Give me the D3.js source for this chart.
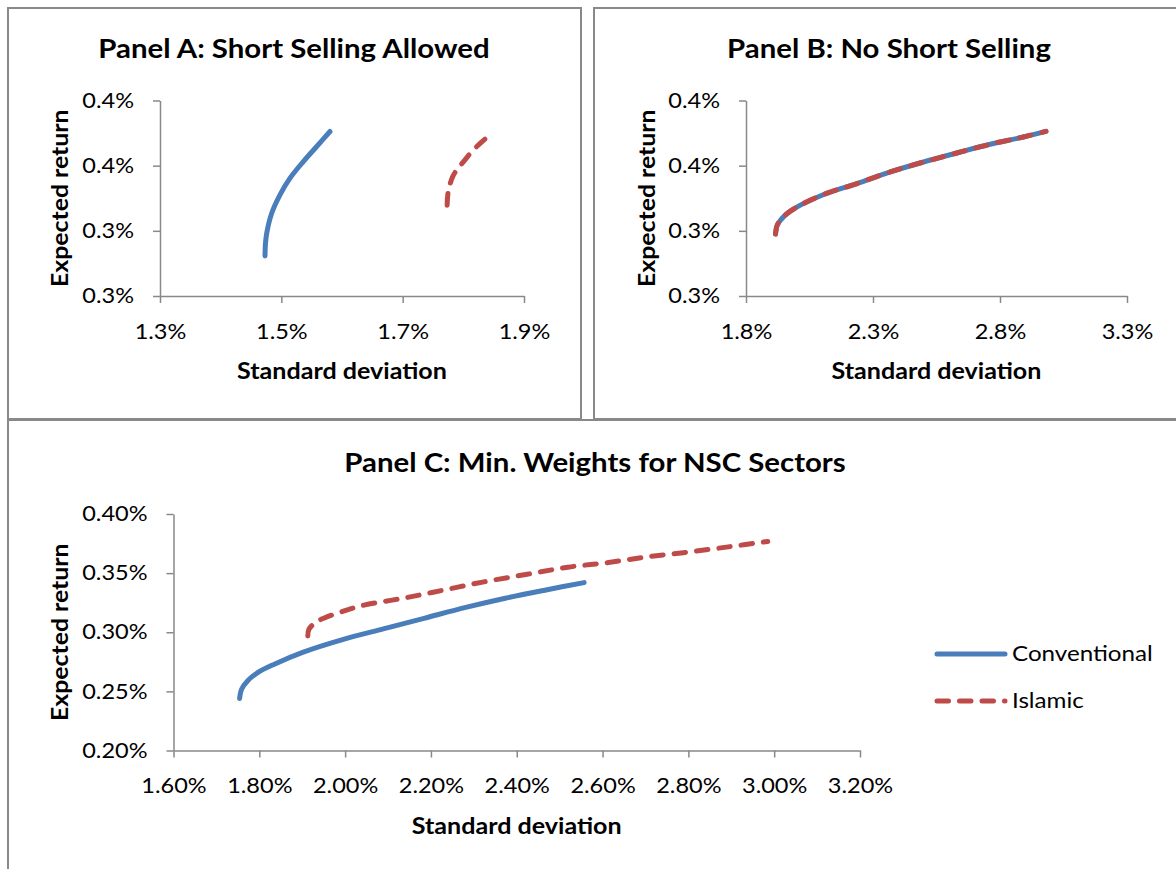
<!DOCTYPE html>
<html>
<head>
<meta charset="utf-8">
<script src="https://cdn.jsdelivr.net/npm/d3@7"></script>
<style>
  html, body { margin: 0; padding: 0; background: #fff; }
  svg { display: block; }
  text { font-family: Lato, "Open Sans", sans-serif; fill: #000; }
</style>
</head>
<body>
<svg id="chart" width="1176" height="869"></svg>
<script>
// Efficient frontiers: [standard deviation %, expected return %]
const panelAConventional = [[1.4731,0.2807],[1.4738,0.2900],[1.4759,0.2982],[1.4841,0.3135],[1.4978,0.3276],[1.5143,0.3404],[1.5362,0.3531],[1.5583,0.3647],[1.5802,0.3762]];
const panelAIslamic = [[1.7733,0.3197],[1.7750,0.3299],[1.7822,0.3413],[1.7895,0.3470],[1.8020,0.3541],[1.8135,0.3605],[1.8272,0.3669],[1.8409,0.3725]];
const panelBConventional = [[1.916,0.2975],[1.923,0.3044],[1.936,0.3082],[1.962,0.3133],[2.014,0.3197],[2.106,0.3279],[2.237,0.3363],[2.368,0.3452],[2.499,0.3528],[2.630,0.3597],[2.761,0.3664],[2.892,0.3720],[2.981,0.3763]];
const panelBIslamic = [[1.916,0.2975],[1.923,0.3044],[1.936,0.3082],[1.962,0.3133],[2.014,0.3197],[2.106,0.3279],[2.237,0.3363],[2.368,0.3452],[2.499,0.3528],[2.630,0.3597],[2.761,0.3664],[2.892,0.3720],[2.981,0.3763]];
const panelCConventional = [[1.754,0.244],[1.759,0.252],[1.773,0.259],[1.797,0.266],[1.835,0.273],[1.901,0.283],[1.996,0.294],[2.091,0.303],[2.186,0.312],[2.281,0.321],[2.376,0.329],[2.471,0.336],[2.557,0.342]];
const panelCIslamic = [[1.913,0.2968],[1.9155,0.3024],[1.930,0.308],[1.949,0.3117],[1.996,0.3178],[2.044,0.3229],[2.139,0.329],[2.234,0.336],[2.329,0.343],[2.424,0.349],[2.519,0.355],[2.614,0.359],[2.709,0.364],[2.804,0.368],[2.899,0.3725],[2.985,0.3768]];

// Axis ticks (percent units) and their printed labels
const xTicksA = [1.3, 1.5, 1.7, 1.9];
const xLabelsA = ["1.3%", "1.5%", "1.7%", "1.9%"];
const xTicksB = [1.8, 2.3, 2.8, 3.3];
const xLabelsB = ["1.8%", "2.3%", "2.8%", "3.3%"];
const yTicksAB = [0.25, 0.30, 0.35, 0.40];
const yLabelsAB = ["0.3%", "0.3%", "0.4%", "0.4%"];
const xTicksC = [1.6, 1.8, 2.0, 2.2, 2.4, 2.6, 2.8, 3.0, 3.2];
const xLabelsC = ["1.60%", "1.80%", "2.00%", "2.20%", "2.40%", "2.60%", "2.80%", "3.00%", "3.20%"];
const yTicksC = [0.20, 0.25, 0.30, 0.35, 0.40];
const yLabelsC = ["0.20%", "0.25%", "0.30%", "0.35%", "0.40%"];

const seriesNames = ["Conventional", "Islamic"];
const titles = ["Panel A: Short Selling Allowed", "Panel B: No Short Selling", "Panel C: Min. Weights for NSC Sectors"];

const BLUE = "#4a7ebb", RED = "#be4b48", GRID = "#898989";
const LINE_W = 5, DASH = "11.5,11";
const svg = d3.select("#chart");

// widen glyphs a little to reach the chart's wide lettering
function stretch(sel, k) {
  sel.each(function () {
    const w = this.getComputedTextLength();
    this.setAttribute("textLength", w * k);
    this.setAttribute("lengthAdjust", "spacingAndGlyphs");
  });
}

// outer frames
const frames = [[8, 8, 581, 419], [594, 8, 1190, 419], [8, 420, 1190, 890]];
svg.selectAll("rect.frame").data(frames).join("rect")
  .attr("class", "frame")
  .attr("x", d => d[0]).attr("y", d => d[1])
  .attr("width", d => d[2] - d[0]).attr("height", d => d[3] - d[1])
  .attr("fill", "none").attr("stroke", GRID).attr("stroke-width", 2);

const line = (x, y) => d3.line().x(d => x(d[0])).y(d => y(d[1])).curve(d3.curveCatmullRom.alpha(0.5));

function panel(cfg) {
  const x = d3.scaleLinear().domain(cfg.xDomain).range(cfg.xRange);
  const y = d3.scaleLinear().domain(cfg.yDomain).range(cfg.yRange);
  const g = svg.append("g");

  const xa = g.append("g").attr("transform", `translate(0,${cfg.yRange[0]})`)
    .call(d3.axisBottom(x).tickValues(cfg.xTicks).tickFormat((d, i) => cfg.xLabels[i])
      .tickSizeInner(7).tickSizeOuter(0).tickPadding(21));
  const ya = g.append("g").attr("transform", `translate(${cfg.xRange[0]},0)`)
    .call(d3.axisLeft(y).tickValues(cfg.yTicks).tickFormat((d, i) => cfg.yLabels[i])
      .tickSizeInner(7).tickSizeOuter(0).tickPadding(19));
  [xa, ya].forEach(a => {
    a.selectAll("path, line").attr("stroke", GRID).attr("stroke-width", 1.5);
    a.selectAll("text").style("font-family", "Lato, sans-serif").style("font-size", "21px").attr("fill", "#000");
    stretch(a.selectAll("text"), 1.12);
  });

  // series: conventional solid, Islamic dashed on top
  g.append("path").datum(cfg.conv).attr("d", line(x, y))
    .attr("fill", "none").attr("stroke", BLUE).attr("stroke-width", LINE_W)
    .attr("stroke-linecap", "round").attr("stroke-linejoin", "round");
  g.append("path").datum(cfg.isl).attr("d", line(x, y))
    .attr("fill", "none").attr("stroke", RED).attr("stroke-width", LINE_W)
    .attr("stroke-dasharray", DASH)
    .attr("stroke-linecap", "round").attr("stroke-linejoin", "round");

  const t = g.append("text").attr("x", cfg.titleX).attr("y", cfg.titleY)
    .attr("text-anchor", "middle").style("font-weight", 700).style("font-size", "26px").text(cfg.title);
  stretch(t, 1.13);

  const xt = g.append("text").attr("x", (cfg.xRange[0] + cfg.xRange[1]) / 2).attr("y", cfg.yRange[0] + 83)
    .attr("text-anchor", "middle").style("font-weight", 700).style("font-size", "23px").text("Standard deviation");
  stretch(xt, 1.09);

  const yt = g.append("text")
    .attr("transform", `translate(${cfg.yTitleX},${(cfg.yRange[0] + cfg.yRange[1]) / 2}) rotate(-90)`)
    .attr("text-anchor", "middle").attr("dy", "0.36em")
    .style("font-weight", 700).style("font-size", "23px").text("Expected return");
  stretch(yt, 1.08);

  return { x, y };
}

panel({
  xDomain: [1.3, 1.9], xRange: [160, 524], yDomain: [0.25, 0.40], yRange: [296, 100.5],
  xTicks: xTicksA, xLabels: xLabelsA, yTicks: yTicksAB, yLabels: yLabelsAB,
  conv: panelAConventional, isl: panelAIslamic,
  title: titles[0], titleX: 294, titleY: 58, yTitleX: 60
});
panel({
  xDomain: [1.8, 3.3], xRange: [746, 1127], yDomain: [0.25, 0.40], yRange: [296, 100.5],
  xTicks: xTicksB, xLabels: xLabelsB, yTicks: yTicksAB, yLabels: yLabelsAB,
  conv: panelBConventional, isl: panelBIslamic,
  title: titles[1], titleX: 889, titleY: 58, yTitleX: 647
});
panel({
  xDomain: [1.6, 3.2], xRange: [173.5, 860], yDomain: [0.20, 0.40], yRange: [750.5, 514],
  xTicks: xTicksC, xLabels: xLabelsC, yTicks: yTicksC, yLabels: yLabelsC,
  conv: panelCConventional, isl: panelCIslamic,
  title: titles[2], titleX: 595, titleY: 472, yTitleX: 60
});

// legend for panel C
const legend = svg.append("g").attr("transform", "translate(937,0)");
const legendRows = seriesNames.map((n, i) => ({ name: n, color: i ? RED : BLUE, dash: i ? DASH : null, y: 654 + i * 47 }));
legendRows.forEach(r => {
  legend.append("line").attr("x1", 0).attr("x2", 68).attr("y1", r.y).attr("y2", r.y)
    .attr("stroke", r.color).attr("stroke-width", LINE_W).attr("stroke-linecap", "round")
    .attr("stroke-dasharray", r.dash);
  const t = legend.append("text").attr("x", 75).attr("y", r.y).attr("dy", "0.35em")
    .style("font-size", "21px").text(r.name);
  stretch(t, 1.15);
});
</script>
</body>
</html>
